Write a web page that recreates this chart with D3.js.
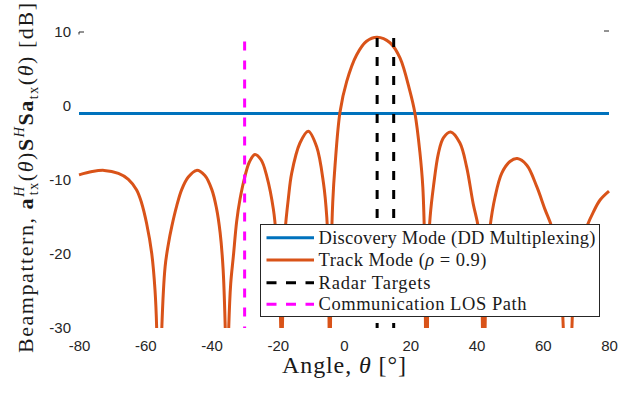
<!DOCTYPE html>
<html>
<head>
<meta charset="utf-8">
<script src="https://cdn.jsdelivr.net/npm/d3@7"></script>
<style>
  html, body { margin: 0; padding: 0; background: #fff; }
  svg { display: block; }
  .tick text { font-family: "Liberation Sans", Arial, sans-serif; font-size: 15px; fill: #262626; }
  .serif { font-family: "Liberation Serif", "Times New Roman", serif; fill: #1a1a1a; }
</style>
</head>
<body>
<svg id="chart" width="638" height="393"></svg>
<script>
// ---------- data ----------
const xTicks = [-80, -60, -40, -20, 0, 20, 40, 60, 80];
const yTicks = [10, 0, -10, -20, -30];

const discoveryAngles = [-80, 80];
const discoveryDb = [-1.0, -1.0];

const trackAngles = [-80, -76, -72.4, -68.1, -65.1, -62.6, -61.1, -59.6, -58.05, -57.05, -56.55, -56.2, -55.4, -55.0, -54.0, -53, -52, -50.5, -49, -47, -44.5, -42, -39.9, -38.5, -37.4, -36.5, -35.85, -35.3, -34.8, -34.2, -33.4, -32.4, -31.4, -29.9, -28.5, -26.9, -25, -23.3, -21.3, -20.3, -19.6, -19.1, -18.85, -18.6, -18.2, -17.8, -16.8, -15.8, -13.3, -10.8, -8.25, -6.2, -5.2, -4.7, -4.3, -3.9, -3.4, -2.7, -1.2, 0.8, 3.8, 6.8, 10, 13.9, 16.9, 19.9, 21.4, 22.9, 23.8, 24.4, 24.6, 24.9, 25.2, 25.4, 26, 27, 28.5, 30, 32.2, 35, 37, 39, 40.5, 41.4, 41.8, 42.2, 42.6, 43, 44.1, 45.6, 47.6, 50.1, 52.3, 55.2, 58.2, 60.7, 62.7, 64.5, 65.5, 66.2, 66.8, 67.45, 68.1, 68.8, 69.5, 71.5, 73.3, 75.3, 77.3, 80];
const trackDb = [-9.3, -8.85, -8.7, -9.1, -9.9, -11.35, -13.1, -15.85, -19.9, -24.9, -30, -40, -40, -30, -21.7, -18.6, -16.3, -13.5, -11.3, -9.6, -8.7, -9.4, -11.3, -13.8, -17.1, -22, -30, -42, -30, -24, -20.3, -15.6, -12.6, -9.5, -7.5, -6.55, -7.3, -9.5, -14.0, -18.5, -23, -30, -42, -30, -22, -17, -12.5, -9.1, -5.0, -3.4, -5.5, -10.4, -15, -21, -42, -21, -13, -8, -0.8, 3.3, 6.9, 8.75, 9.3, 8.55, 6.5, 2.0, -0.95, -6.2, -11, -20, -30, -42, -30, -20, -15, -10.9, -6.4, -4.3, -3.5, -5.0, -8.2, -13.2, -16.3, -22, -30, -42, -30, -22, -16.3, -12.3, -9.1, -7.5, -7.1, -8.0, -10.9, -14.0, -16.3, -20, -24, -30, -40, -42, -40, -30, -24, -19, -16.3, -14.3, -12.7, -11.5];

const radarTargets = [10, 15];
const radarTop = 9.2;
const commPath = [-30];
const commTop = 8.7;

const legendLabels = ["Discovery Mode (DD Multiplexing)", "Track Mode (\u03C1 = 0.9)", "Radar Targets", "Communication LOS Path"];

// ---------- layout ----------
const plotL = 79, plotR = 609, plotT = 32, plotB = 328;
const svg = d3.select("#chart");

const x = d3.scaleLinear().domain([-80, 80]).range([plotL, plotR]);
const y = d3.scaleLinear().domain([-30, 10]).range([plotB, plotT]);

const blue = "#0072BD", orange = "#D95319", magenta = "#FF00FF";

// clip
svg.append("defs").append("clipPath").attr("id", "clip")
  .append("rect").attr("x", plotL - 2).attr("y", plotT - 6).attr("width", plotR - plotL + 4).attr("height", plotB - plotT + 6);

// axes (tick labels only)
const xAxis = d3.axisBottom(x).tickValues(xTicks).tickSize(0).tickPadding(12).tickFormat(d3.format("d"));
const gx = svg.append("g").attr("transform", `translate(0,${plotB})`).call(xAxis);
gx.select(".domain").remove();

const yAxis = d3.axisLeft(y).tickValues(yTicks).tickSize(0).tickPadding(8).tickFormat(d3.format("d"));
const gy = svg.append("g").attr("transform", `translate(${plotL},0)`).call(yAxis);
gy.select(".domain").remove();
svg.selectAll(".tick text").text(d => d < 0 ? "-" + Math.abs(d) : d);

// small residual tick marks at the top
svg.append("path").attr("d", `M${plotL},${plotT + 2.5}V${plotT}H${plotL + 5}`)
  .attr("fill", "none").attr("stroke", "#262626").attr("stroke-width", 1);
svg.append("line").attr("x1", plotR - 5).attr("x2", plotR).attr("y1", plotT - 1).attr("y2", plotT - 1)
  .attr("stroke", "#262626").attr("stroke-width", 1);

const plot = svg.append("g").attr("clip-path", "url(#clip)");

// discovery mode
const line = d3.line().x(d => x(d[0])).y(d => y(d[1]));
plot.append("path")
  .datum(discoveryAngles.map((a, i) => [a, discoveryDb[i]]))
  .attr("d", line).attr("fill", "none").attr("stroke", blue).attr("stroke-width", 3);

// track mode
const curve = d3.line().x(d => x(d[0])).y(d => y(d[1])).curve(d3.curveCatmullRom.alpha(0.5));
plot.append("path")
  .datum(trackAngles.map((a, i) => [a, trackDb[i]]))
  .attr("d", curve).attr("fill", "none").attr("stroke", orange).attr("stroke-width", 3)
  .attr("stroke-linejoin", "round");

// radar targets
radarTargets.forEach(a => {
  plot.append("line")
    .attr("x1", x(a)).attr("x2", x(a)).attr("y1", y(radarTop)).attr("y2", y(-30))
    .attr("stroke", "#000").attr("stroke-width", 3).attr("stroke-dasharray", "9,10");
});
// communication path
commPath.forEach(a => {
  plot.append("line")
    .attr("x1", x(a)).attr("x2", x(a)).attr("y1", y(commTop)).attr("y2", y(-30))
    .attr("stroke", magenta).attr("stroke-width", 3).attr("stroke-dasharray", "9,10");
});

// legend
const lg = svg.append("g");
lg.append("rect").attr("x", 260.5).attr("y", 224.5).attr("width", 339).attr("height", 92)
  .attr("fill", "#fff").attr("stroke", "#262626").attr("stroke-width", 1);
const legendColors = [blue, orange, "#000", magenta];
const legendDash = [null, null, "10,9.5", "10,9.5"];
const legendWidths = [277, 168, 112, 208];
const rowY = [237.7, 260, 282.7, 304.3];
legendLabels.forEach((lab, i) => {
  lg.append("line").attr("x1", 266.5).attr("x2", 314).attr("y1", rowY[i]).attr("y2", rowY[i])
    .attr("stroke", legendColors[i]).attr("stroke-width", 3)
    .attr("stroke-dasharray", legendDash[i]);
  const t = lg.append("text").attr("class", "serif").attr("x", 318.5).attr("y", rowY[i] + 6)
    .attr("font-size", 18.5).attr("textLength", legendWidths[i]).attr("lengthAdjust", "spacing");
  if (i === 1) {
    t.append("tspan").text("Track Mode (");
    t.append("tspan").attr("font-style", "italic").text("\u03C1");
    t.append("tspan").text(" = 0.9)");
  } else {
    t.text(lab);
  }
});

// x label
const xl = svg.append("text").attr("class", "serif").attr("x", 282).attr("y", 373)
  .attr("font-size", 24).attr("textLength", 124).attr("lengthAdjust", "spacing");
xl.append("tspan").text("Angle, ");
xl.append("tspan").attr("font-style", "italic").text("\u03B8");
xl.append("tspan").text(" [\u00B0]");

// y label
const yl = svg.append("text").attr("class", "serif")
  .attr("transform", "translate(33,353) rotate(-90)")
  .attr("x", 0).attr("y", 0).attr("font-size", 22)
  .attr("textLength", 350).attr("lengthAdjust", "spacing");
yl.append("tspan").text("Beampattern, ");
yl.append("tspan").attr("font-weight", "bold").text("a");
yl.append("tspan").attr("font-size", 14).attr("font-style", "italic").attr("dy", -9).text("H");
yl.append("tspan").attr("font-size", 14).attr("dx", -10).attr("dy", 14).text("tx");
yl.append("tspan").attr("dy", -5).text("(");
yl.append("tspan").attr("font-style", "italic").text("\u03B8");
yl.append("tspan").text(")");
yl.append("tspan").attr("font-weight", "bold").text("S");
yl.append("tspan").attr("font-size", 14).attr("font-style", "italic").attr("dy", -9).text("H");
yl.append("tspan").attr("font-weight", "bold").attr("dy", 9).text("Sa");
yl.append("tspan").attr("font-size", 14).attr("dy", 5).text("tx");
yl.append("tspan").attr("dy", -5).text("(");
yl.append("tspan").attr("font-style", "italic").text("\u03B8");
yl.append("tspan").text(") [dB]");
</script>
</body>
</html>
